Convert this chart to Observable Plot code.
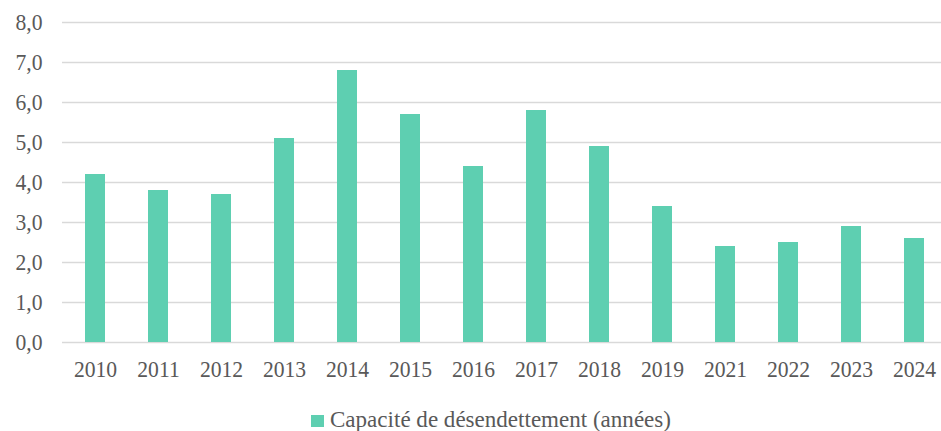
<!DOCTYPE html>
<html>
<head>
<meta charset="utf-8">
<script src="https://cdn.jsdelivr.net/npm/d3@7"></script>
<script src="https://cdn.jsdelivr.net/npm/@observablehq/plot@0.6"></script>
<style>
  body { margin: 0; background: #fff; position: relative; width: 941px; height: 431px; overflow: hidden; }
  #sw { position: absolute; left: 311px; top: 415px; width: 13px; height: 12px; background: #5ECFB1; }
  #legtext { position: absolute; left: 330px; top: 407px; font-size: 24px; line-height: 24px; color: #595959; white-space: nowrap; transform-origin: 0 0; font-family: "Liberation Serif", serif; }
</style>
</head>
<body>
<div id="chart"></div>
<div id="sw"></div>
<span id="legtext"></span>
<script>
const years = ["2010","2011","2012","2013","2014","2015","2016","2017","2018","2019","2021","2022","2023","2024"];
const values = [4.2, 3.8, 3.7, 5.1, 6.8, 5.7, 4.4, 5.8, 4.9, 3.4, 2.4, 2.5, 2.9, 2.6];
const yTicks = [0, 1, 2, 3, 4, 5, 6, 7, 8];
const seriesName = "Capacité de désendettement (années)";

const FONT = "'Liberation Serif', serif";
const data = years.map((y, i) => ({year: y, value: values[i]}));

const plot = Plot.plot({
  width: 941,
  height: 390,
  marginTop: 22,
  marginBottom: 48,
  marginLeft: 62,
  marginRight: 0,
  style: { fontFamily: FONT, fontSize: "24px", color: "#595959", background: "#fff" },
  x: { domain: years, range: [61.3, 947.7], paddingInner: 0.68, paddingOuter: 0.34, label: null },
  y: { domain: [0, 8], label: null },
  marks: [
    Plot.ruleY(yTicks, { stroke: "#d9d9d9", strokeWidth: 1.6 }),
    Plot.barY(data, { x: "year", y: "value", fill: "#5ECFB1" }),
    Plot.axisY(yTicks, { tickSize: 0, tickPadding: 20, tickFormat: d => d.toFixed(1).replace(".", ","), fill: "#595959", label: null }),
    Plot.axisX({ tickSize: 0, tickPadding: 17, fill: "#595959", label: null })
  ]
});
document.getElementById("chart").appendChild(plot);

// slightly condensed serif text, like the reference
plot.querySelectorAll("text").forEach(t => {
  const w = t.getComputedTextLength();
  t.setAttribute("textLength", (w * 0.9).toFixed(2));
  t.setAttribute("lengthAdjust", "spacingAndGlyphs");
});

const lt = document.getElementById("legtext");
lt.textContent = seriesName;
const nat = lt.getBoundingClientRect().width;
lt.style.transform = `scaleX(${(341 / nat).toFixed(4)})`;
</script>
</body>
</html>
